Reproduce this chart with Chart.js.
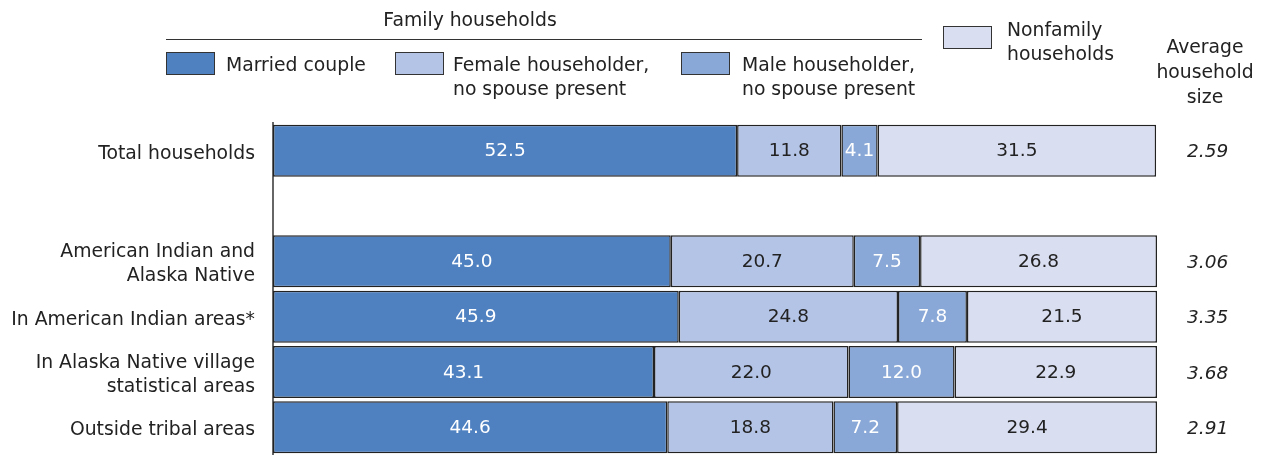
<!DOCTYPE html>
<html>
<head>
<meta charset="utf-8">
<script src="https://cdn.jsdelivr.net/npm/chart.js@4"></script>
<style>
  body { margin: 0; background: #fff; font-family: "DejaVu Sans", sans-serif; color: #222; }
  #wrap { position: relative; width: 1265px; height: 455px; overflow: hidden; }
  #chart { position: absolute; left: 0; top: 0; }
  .lg { position: absolute; font-size: 18.8px; line-height: 24px; white-space: nowrap; }
  .sw { position: absolute; width: 47px; height: 21px; border: 1px solid #333; }
  .rule { position: absolute; left: 166px; top: 39px; width: 756px; height: 1px; background: #333; }
</style>
</head>
<body>
<div id="wrap">
  <canvas id="chart" width="1265" height="455"></canvas>
  <div class="lg" style="left:370px; top:8px; width:200px; text-align:center;">Family households</div>
  <div class="rule"></div>
  <div class="sw" style="left:166px; top:52px; background:#4f81c1;"></div>
  <div class="lg" style="left:226px; top:53px;">Married couple</div>
  <div class="sw" style="left:395px; top:52px; background:#b4c4e6;"></div>
  <div class="lg" style="left:453px; top:53px;">Female householder,<br>no spouse present</div>
  <div class="sw" style="left:681px; top:52px; background:#8aa8d7;"></div>
  <div class="lg" style="left:742px; top:53px;">Male householder,<br>no spouse present</div>
  <div class="sw" style="left:943px; top:26px; background:#d9def1;"></div>
  <div class="lg" style="left:1007px; top:18px;">Nonfamily<br>households</div>
  <div class="lg" style="left:1148px; top:34px; width:114px; text-align:center; line-height:25px;">Average<br>household<br>size</div>
</div>
<script>
const categories = [
  "Total households",
  "",
  ["American Indian and", "Alaska Native"],
  "In American Indian areas*",
  ["In Alaska Native village", "statistical areas"],
  "Outside tribal areas"
];
const marriedCouple = [52.5, null, 45.0, 45.9, 43.1, 44.6];
const femaleHouseholder = [11.8, null, 20.7, 24.8, 22.0, 18.8];
const maleHouseholder = [4.1, null, 7.5, 7.8, 12.0, 7.2];
const nonfamily = [31.5, null, 26.8, 21.5, 22.9, 29.4];
const avgSize = ["2.59", "", "3.06", "3.35", "3.68", "2.91"];

const seriesColors = ["#4f81c1", "#b4c4e6", "#8aa8d7", "#d9def1"];
const labelColors = ["#ffffff", "#222222", "#ffffff", "#222222"];

function makeSet(label, data, i) {
  return {
    label,
    data,
    backgroundColor: seriesColors[i],
    borderColor: "#222222",
    borderWidth: 1.5,
    borderSkipped: false,
    barPercentage: 0.94,
    categoryPercentage: 1
  };
}

const valueLabels = {
  id: "valueLabels",
  afterDatasetsDraw(chart) {
    const ctx = chart.ctx;
    ctx.save();
    ctx.font = '18.5px "DejaVu Sans"';
    ctx.textAlign = "center";
    ctx.textBaseline = "middle";
    chart.data.datasets.forEach((ds, di) => {
      const meta = chart.getDatasetMeta(di);
      meta.data.forEach((bar, i) => {
        const v = ds.data[i];
        if (v == null) return;
        ctx.fillStyle = labelColors[di];
        ctx.fillText(v.toFixed(1), (bar.x + bar.base) / 2, bar.y + 1);
      });
    });
    ctx.restore();
  }
};

function noPad(scale) {
  scale.paddingTop = 0;
  scale.paddingBottom = 0;
}

new Chart(document.getElementById("chart"), {
  type: "bar",
  data: {
    labels: categories,
    datasets: [
      makeSet("Married couple", marriedCouple, 0),
      makeSet("Female householder, no spouse present", femaleHouseholder, 1),
      makeSet("Male householder, no spouse present", maleHouseholder, 2),
      makeSet("Nonfamily households", nonfamily, 3)
    ]
  },
  options: {
    indexAxis: "y",
    responsive: false,
    animation: false,
    layout: { padding: { top: 123, bottom: 0, left: 0, right: 0 } },
    plugins: { legend: { display: false }, tooltip: { enabled: false } },
    scales: {
      x: {
        stacked: true,
        min: 0,
        max: 100,
        display: false
      },
      y: {
        stacked: true,
        grid: { display: false },
        border: { display: true, color: "#666", width: 2 },
        ticks: { color: "#222", padding: 10, labelOffset: 3, font: { family: "DejaVu Sans", size: 18.8, lineHeight: 1.3 } },
        afterFit(scale) { scale.width = 273; noPad(scale); }
      },
      y2: {
        type: "category",
        position: "right",
        labels: avgSize,
        offset: true,
        grid: { display: false },
        border: { display: false },
        ticks: {
          color: "#222",
          padding: 22,
          labelOffset: 2,
          crossAlign: "center",
          font: { family: "DejaVu Sans", size: 18.5, style: "italic" }
        },
        afterFit(scale) { scale.width = 108; noPad(scale); }
      }
    }
  },
  plugins: [valueLabels]
});
</script>
</body>
</html>
